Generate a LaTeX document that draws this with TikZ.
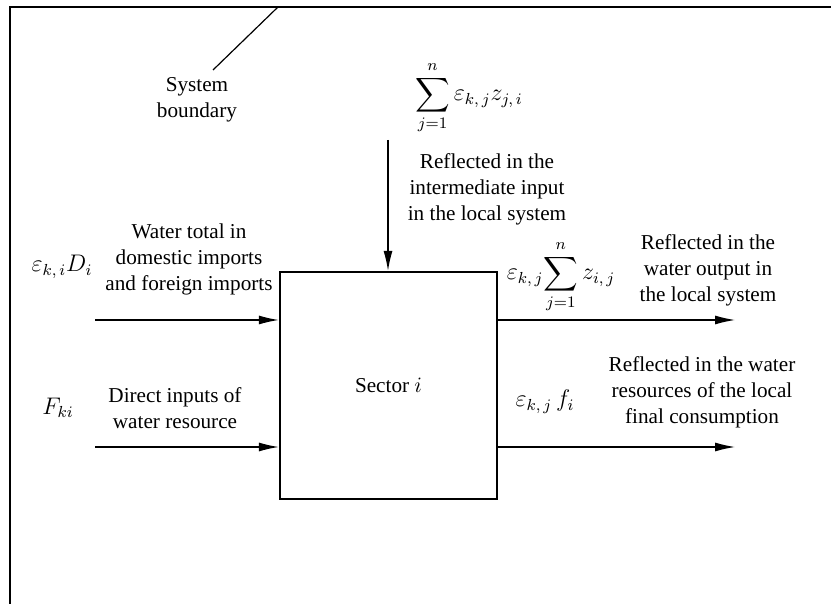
\documentclass[tikz,border=0pt]{standalone}
\usepackage{amsmath}
\usepackage{fontspec}
\setmainfont{Liberation Serif}
\usetikzlibrary{arrows.meta}
\tikzset{>={Latex[length=10pt,width=4.5pt]}}
\tikzstyle{txt}=[align=center,inner sep=0pt,font=\fontsize{10.6}{13}\selectfont]
\tikzstyle{eq}=[inner sep=0pt,font=\fontsize{11.5}{14}\selectfont]
\tikzstyle{flow}=[->,line width=0.6pt]

\begin{document}
\begin{tikzpicture}[x=0.5pt,y=-0.5pt]
  \useasboundingbox (0,0) rectangle (831,604);
  % system boundary
  \draw[line width=0.7pt] (10,604) -- (10,7) -- (831,7);
  \coordinate (bnd) at (278,7);
  \coordinate (bndend) at (213,70);
  \draw[line width=0.6pt] (bnd) -- (bndend);
  \node[txt] (bndlbl) at (197,100) {System\\boundary};
  % sector
  \node[txt,draw,line width=1.2pt,minimum width=108.5pt,minimum height=113.5pt]
    (sector) at (388.5,385.5) {Sector~$i$};
  % intermediate input
  \node[eq] (sumin) at (469,98) {$\displaystyle\sum_{j=1}^{n}\varepsilon_{k,\,j}z_{j,\,i}$};
  \node[txt] (lblin) at (487,189) {Reflected in the\\intermediate input\\in the local system};
  \coordinate (topin) at (388,140);
  \draw[flow] (topin) -- (topin |- sector.north);
  % inputs
  \coordinate (inA) at (95,320);
  \coordinate (inB) at (95,447);
  \draw[flow] (inA) -- (inA -| sector.west);
  \draw[flow] (inB) -- (inB -| sector.west);
  \node[eq] (eD) at (62,267) {$\varepsilon_{k,\,i}D_i$};
  \node[txt] (lblD) at (189,259) {Water total in\\domestic imports\\and foreign imports};
  \node[eq] (Fki) at (58,408) {$F_{ki}$};
  \node[txt] (lblF) at (175,408) {Direct inputs of\\water resource};
  % outputs
  \coordinate (outA) at (735,320);
  \coordinate (outB) at (735,447);
  \draw[flow] (outA -| sector.east) -- (outA);
  \draw[flow] (outB -| sector.east) -- (outB);
  \node[eq] (ez) at (561,277) {$\displaystyle\varepsilon_{k,\,j}\!\sum_{j=1}^{n}z_{i,\,j}$};
  \node[txt] (lblz) at (708,270) {Reflected in the\\water output in\\the local system};
  \node[eq] (ef) at (545,402) {$\varepsilon_{k,\,j}\,f_i$};
  \node[txt] (lblf) at (702,392) {Reflected in the water\\resources of the local\\final consumption};
\end{tikzpicture}
\end{document}
